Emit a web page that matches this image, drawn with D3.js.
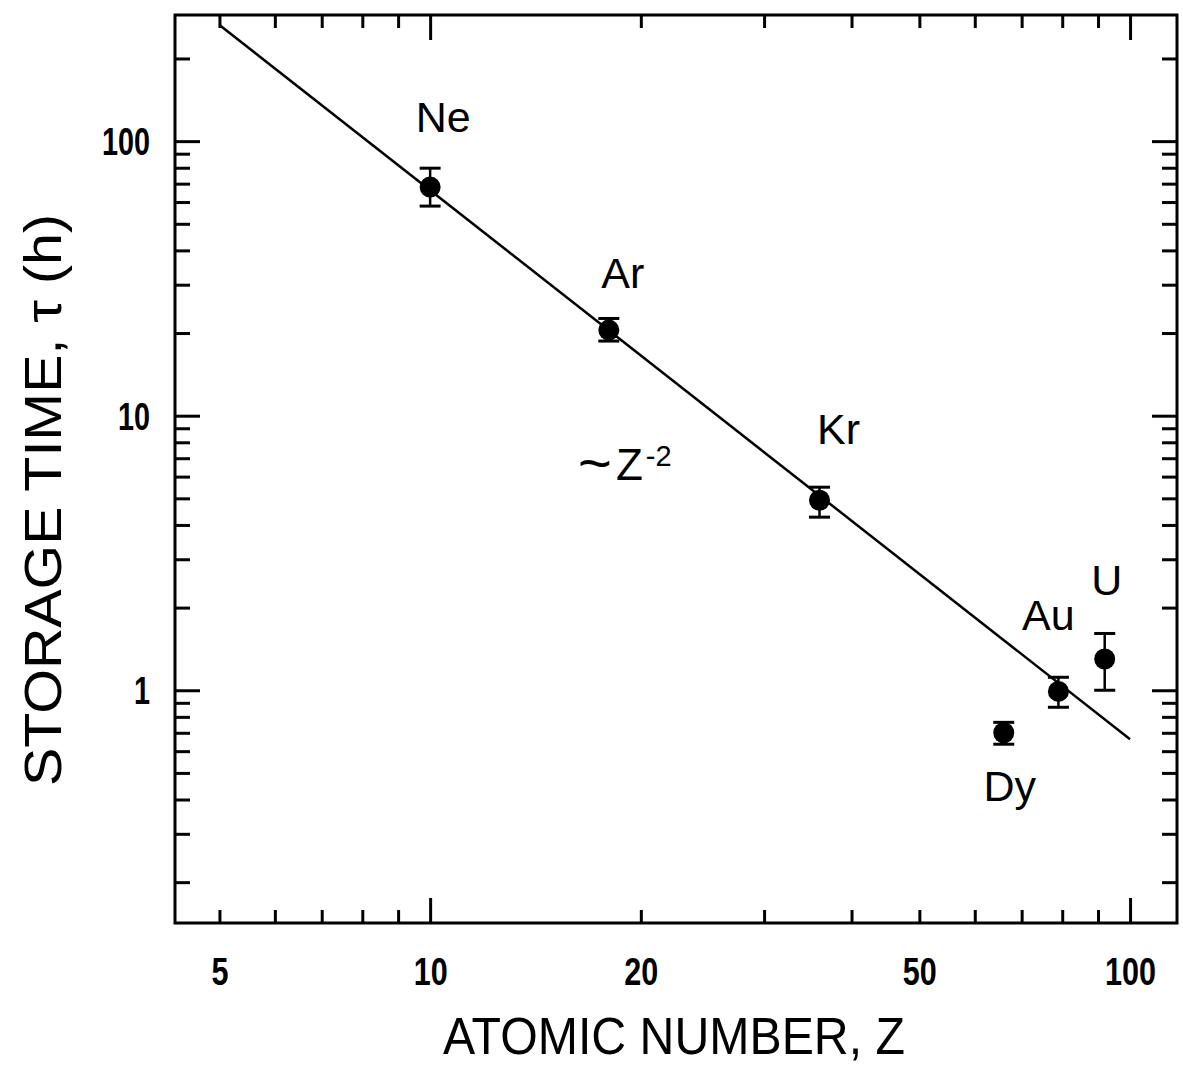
<!DOCTYPE html>
<html>
<head>
<meta charset="utf-8">
<script src="https://cdn.jsdelivr.net/npm/d3@7/dist/d3.min.js"></script>
<style>
  html, body { margin: 0; padding: 0; background: #fff; }
  svg { display: block; }
  text { font-family: "Liberation Sans", Arial, sans-serif; fill: #000; }
</style>
</head>
<body>
<svg id="chart" width="1183" height="1073"></svg>
<script>
// Measured storage times of stored ions versus atomic number
const elements = ["Ne", "Ar", "Kr", "Dy", "Au", "U"];
const atomicZ  = [10, 18, 36, 66, 79, 92];
const tau      = [68, 20.5, 4.92, 0.70, 0.99, 1.30];
const tauLow   = [58, 18.7, 4.27, 0.636, 0.867, 1.0];
const tauHigh  = [79.7, 22.6, 5.49, 0.764, 1.115, 1.61];

// ~Z^-2 guide line, end points
const fitZ   = [5, 100];
const fitTau = [265, 0.663];

// Axis ticks
const xTickLabels = [5, 10, 20, 50, 100];
const xMajorTicks = [10, 100];
const xMinorTicks = [5, 6, 7, 8, 9, 20, 30, 40, 50, 60, 70, 80, 90];
const yTickLabels = [1, 10, 100];
const yMajorTicks = [1, 10, 100];
const yMinorTicks = [0.2, 0.3, 0.4, 0.5, 0.6, 0.7, 0.8, 0.9,
                     2, 3, 4, 5, 6, 7, 8, 9,
                     20, 30, 40, 50, 60, 70, 80, 90, 200];

// Label placement around each point (pixel offsets from the marker)
const labelOffset = {
  Ne: [13, -55], Ar: [14, -42], Kr: [19, -56],
  Dy: [6, 68],   Au: [-10, -61], U: [2, -64]
};

const svg = d3.select("#chart");
const plotL = 175, plotR = 1177, plotT = 15, plotB = 923;

const x = d3.scaleLog().domain([4.32, 116.7]).range([plotL, plotR]);
const y = d3.scaleLog().domain([0.142, 288]).range([plotB, plotT]);

svg.append("rect").attr("width", 1183).attr("height", 1073).attr("fill", "#fff");

// Frame
svg.append("rect")
  .attr("x", plotL).attr("y", plotT)
  .attr("width", plotR - plotL).attr("height", plotB - plotT)
  .attr("fill", "none").attr("stroke", "#000").attr("stroke-width", 3);

function styleTicks(g) {
  g.select(".domain").remove();
  g.selectAll(".tick line").attr("stroke", "#000").attr("stroke-width", 3);
  g.selectAll(".tick text").remove();
}

// Inward ticks on all four sides
const tickSets = [
  [d3.axisBottom, plotB, xMajorTicks, 25, x, "x"],
  [d3.axisBottom, plotB, xMinorTicks, 13, x, "x"],
  [d3.axisTop, plotT, xMajorTicks, 25, x, "x"],
  [d3.axisTop, plotT, xMinorTicks, 13, x, "x"],
  [d3.axisLeft, plotL, yMajorTicks, 25, y, "y"],
  [d3.axisLeft, plotL, yMinorTicks, 15, y, "y"],
  [d3.axisRight, plotR, yMajorTicks, 25, y, "y"],
  [d3.axisRight, plotR, yMinorTicks, 15, y, "y"]
];
tickSets.forEach(([axisFn, pos, values, len, scale, dim]) => {
  const g = svg.append("g")
    .attr("transform", dim === "x" ? `translate(0,${pos})` : `translate(${pos},0)`)
    .call(axisFn(scale).tickValues(values).tickSize(-len).tickFormat(""));
  styleTicks(g);
});

// Tick labels
const xLab = svg.append("g")
  .attr("transform", `translate(0,${plotB})`)
  .call(d3.axisBottom(x).tickValues(xTickLabels).tickSize(0).tickFormat(d3.format("d")));
xLab.select(".domain").remove();
xLab.selectAll(".tick text")
  .attr("y", 62).attr("dy", 0)
  .attr("font-size", 38).attr("font-family", "'Liberation Sans', Arial, sans-serif")
  .attr("font-weight", "bold")
  .attr("fill", "#000")
  .attr("textLength", d => String(d).length * 17)
  .attr("lengthAdjust", "spacingAndGlyphs");

const yLab = svg.append("g")
  .attr("transform", `translate(${plotL},0)`)
  .call(d3.axisLeft(y).tickValues(yTickLabels).tickSize(0).tickFormat(d3.format("d")));
yLab.select(".domain").remove();
yLab.selectAll(".tick text")
  .attr("x", -25).attr("dy", "0.36em")
  .attr("font-size", 38).attr("font-family", "'Liberation Sans', Arial, sans-serif")
  .attr("font-weight", "bold")
  .attr("fill", "#000")
  .attr("textLength", d => String(d).length * 16)
  .attr("lengthAdjust", "spacingAndGlyphs");

// Axis titles
svg.append("text")
  .attr("x", 674).attr("y", 1054)
  .attr("text-anchor", "middle")
  .attr("font-size", 52)
  .attr("textLength", 462).attr("lengthAdjust", "spacingAndGlyphs")
  .text("ATOMIC NUMBER, Z");

svg.append("text")
  .attr("transform", "translate(61,500) rotate(-90)")
  .attr("text-anchor", "middle")
  .attr("font-size", 52)
  .attr("textLength", 572).attr("lengthAdjust", "spacingAndGlyphs")
  .text("STORAGE TIME, τ (h)");

// Guide line ~ Z^-2
const fitData = fitZ.map((z, i) => [z, fitTau[i]]);
svg.append("path")
  .datum(fitData)
  .attr("fill", "none").attr("stroke", "#000").attr("stroke-width", 2.5)
  .attr("d", d3.line().x(d => x(d[0])).y(d => y(d[1])));

svg.append("text")
  .attr("x", 578).attr("y", 480)
  .call(t => {
    t.append("tspan").attr("font-size", 58).attr("dy", 3).text("~");
    t.append("tspan").attr("font-size", 44).attr("dy", -3).attr("dx", 4).text("Z");
    t.append("tspan").attr("font-size", 29).attr("dy", -14).attr("dx", 3).text("-2");
  });

// Data points with error bars
const pts = elements.map((name, i) => ({
  name, z: atomicZ[i], t: tau[i], lo: tauLow[i], hi: tauHigh[i]
}));

const capHalf = 10.5;
const gp = svg.append("g");
gp.selectAll("line.err").data(pts).enter().append("line")
  .attr("x1", d => x(d.z)).attr("x2", d => x(d.z))
  .attr("y1", d => y(d.lo)).attr("y2", d => y(d.hi))
  .attr("stroke", "#000").attr("stroke-width", 2.5);
gp.selectAll("line.capHi").data(pts).enter().append("line")
  .attr("x1", d => x(d.z) - capHalf).attr("x2", d => x(d.z) + capHalf)
  .attr("y1", d => y(d.hi)).attr("y2", d => y(d.hi))
  .attr("stroke", "#000").attr("stroke-width", 3);
gp.selectAll("line.capLo").data(pts).enter().append("line")
  .attr("x1", d => x(d.z) - capHalf).attr("x2", d => x(d.z) + capHalf)
  .attr("y1", d => y(d.lo)).attr("y2", d => y(d.lo))
  .attr("stroke", "#000").attr("stroke-width", 3);
gp.selectAll("circle").data(pts).enter().append("circle")
  .attr("cx", d => x(d.z)).attr("cy", d => y(d.t))
  .attr("r", 10.5).attr("fill", "#000");

// Element labels
svg.append("g").selectAll("text").data(pts).enter().append("text")
  .attr("x", d => x(d.z) + labelOffset[d.name][0])
  .attr("y", d => y(d.t) + labelOffset[d.name][1])
  .attr("text-anchor", "middle")
  .attr("font-size", 43)
  .text(d => d.name);
</script>
</body>
</html>
